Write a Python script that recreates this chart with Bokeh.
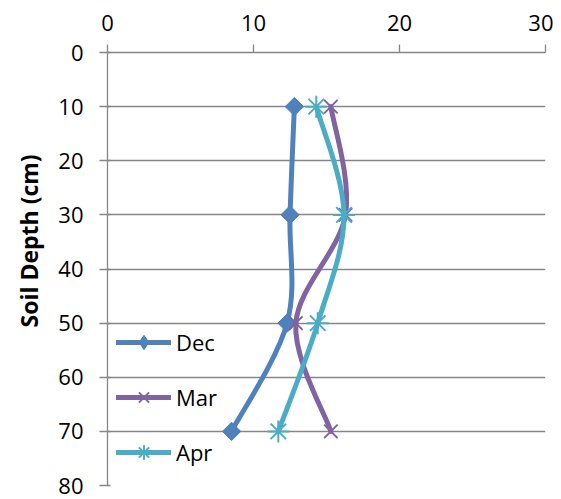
import numpy as np
from bokeh.plotting import figure
from bokeh.models import Range1d, FixedTicker, Legend, LegendItem, Title, ColumnDataSource
from bokeh.embed import file_html
from bokeh.resources import INLINE

# ---- data ----
depth = [10, 30, 50, 70]
dec = [12.8, 12.5, 12.3, 8.5]
mar = [15.3, 16.3, 12.9, 15.3]
apr = [14.3, 16.2, 14.4, 11.7]
series_names = ["Dec", "Mar", "Apr"]
x_ticks = [0, 10, 20, 30]
y_ticks = [0, 10, 20, 30, 40, 50, 60, 70, 80]

FONT = "Open Sans"
GRID = "#868686"

p = figure(width=553, height=499, x_range=Range1d(0, 30), y_range=Range1d(80, 0),
           x_axis_location="above", output_backend="svg", toolbar_location=None,
           min_border_left=107, min_border_right=8, min_border_top=52, min_border_bottom=14)
p.outline_line_color = None
p.background_fill_color = "white"
p.border_fill_color = "white"
p.xgrid.visible = False
p.ygrid.grid_line_color = GRID
p.ygrid.grid_line_width = 1.3
p.ygrid.ticker = FixedTicker(ticks=y_ticks)

for ax, ticks in ((p.xaxis[0], x_ticks), (p.yaxis[0], y_ticks)):
    ax.ticker = FixedTicker(ticks=ticks)
    ax.axis_line_color = GRID
    ax.axis_line_width = 1.3
    ax.major_tick_line_color = GRID
    ax.major_tick_line_width = 1.3
    ax.major_tick_out = 8
    ax.major_tick_in = 0
    ax.minor_tick_line_color = None
    ax.major_label_text_font = FONT
    ax.major_label_text_font_size = "22px"
    ax.major_label_text_color = "black"
p.xaxis.major_label_standoff = 14
p.yaxis.major_label_standoff = 16
p.yaxis.major_tick_in = 3


def smooth_segments(xs, ys):
    pts = np.column_stack([xs, ys]).astype(float)
    n = len(pts)
    seg = dict(x0=[], y0=[], x1=[], y1=[], cx0=[], cy0=[], cx1=[], cy1=[])
    for i in range(n - 1):
        p0 = pts[i - 1] if i > 0 else pts[i]
        p1 = pts[i]
        p2 = pts[i + 1]
        p3 = pts[i + 2] if i + 2 < n else pts[i + 1]
        c1 = p1 + (p2 - p0) / 6.0
        c2 = p2 - (p3 - p1) / 6.0
        seg["x0"].append(p1[0]); seg["y0"].append(p1[1])
        seg["x1"].append(p2[0]); seg["y1"].append(p2[1])
        seg["cx0"].append(c1[0]); seg["cy0"].append(c1[1])
        seg["cx1"].append(c2[0]); seg["cy1"].append(c2[1])
    return ColumnDataSource(seg)


styles = [
    dict(color="#4F81BD", marker="square", angle=np.pi / 4, size=13, lw=1, fill=True,
         leg_marker="diamond"),
    dict(color="#8064A2", marker="x", angle=0, size=19, lw=2, fill=False, leg_marker="x"),
    dict(color="#4BACC6", marker="asterisk", angle=0, size=22, lw=2, fill=False,
         leg_marker="asterisk"),
]

items = []
for name, vals, st in zip(series_names, [dec, mar, apr], styles):
    src = smooth_segments(vals, depth)
    fill = st["color"] if st["fill"] else None
    br = p.bezier(x0="x0", y0="y0", x1="x1", y1="y1", cx0="cx0", cy0="cy0",
                  cx1="cx1", cy1="cy1", source=src, line_color=st["color"],
                  line_width=5, line_cap="round")
    p.scatter(x=vals, y=depth, marker=st["marker"], size=st["size"], angle=st["angle"],
              line_color=st["color"], line_width=st["lw"], fill_color=fill)
    lr = p.scatter(x=[np.nan], y=[np.nan], marker=st["leg_marker"], size=st["size"],
                   line_color=st["color"], line_width=st["lw"], fill_color=fill)
    items.append(LegendItem(label=name, renderers=[br, lr]))

legend = Legend(items=items, location=(9, 15), padding=0, margin=0, spacing=19,
                glyph_width=55, glyph_height=36, label_height=36, label_standoff=5,
                background_fill_alpha=0, border_line_alpha=0,
                label_text_font=FONT, label_text_font_size="22px", label_text_color="black")
p.add_layout(legend)

ytitle = Title(text="Soil Depth (cm)", align="left", offset=158, standoff=21,
               text_font=FONT, text_font_style="bold", text_font_size="23px",
               text_color="black")
p.add_layout(ytitle, "left")

open("out.html", "w").write(file_html(p, INLINE))
